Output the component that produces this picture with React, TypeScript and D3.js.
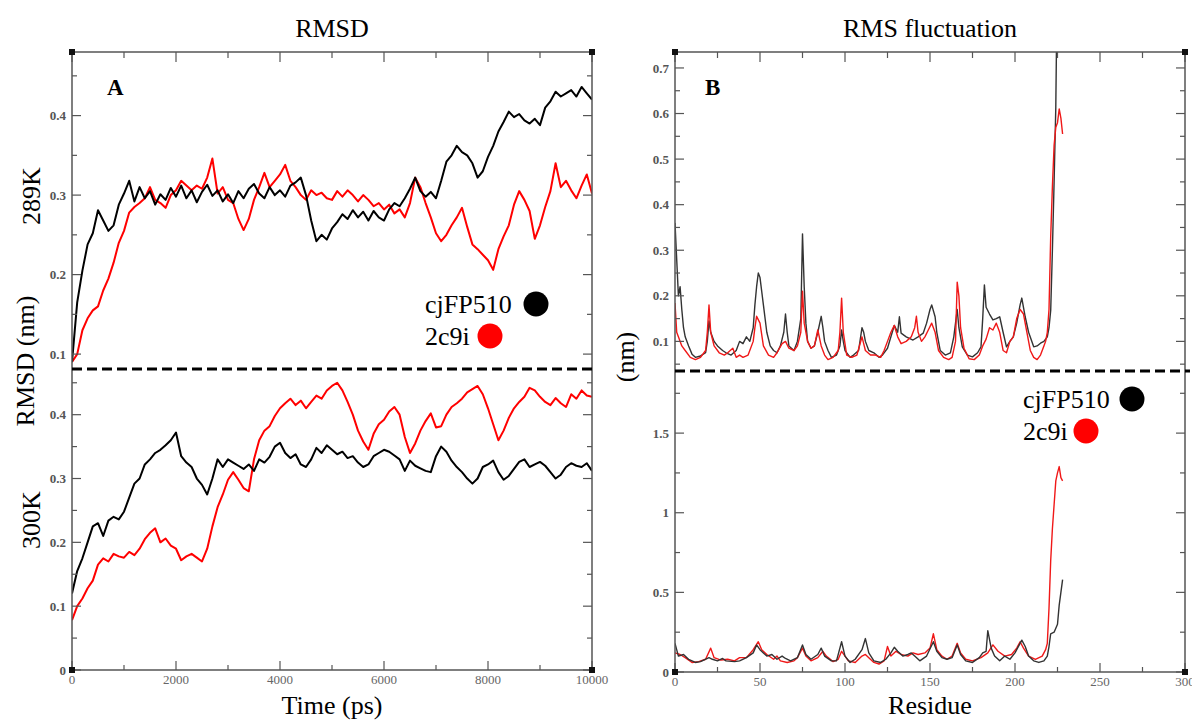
import React from 'react';
import * as d3 from 'd3';

const width = 1192;
const height = 722;

// ---- RMSD (nm), one sample every 100 ps from 0 to 10000 ps ----
const timeStep = 100;
const black289 = [
  0.090, 0.165, 0.205, 0.238, 0.252, 0.281, 0.268, 0.255, 0.262, 0.288,
  0.302, 0.318, 0.292, 0.310, 0.296, 0.305, 0.288, 0.301, 0.294, 0.309,
  0.298, 0.312, 0.296, 0.306, 0.291, 0.304, 0.313, 0.299, 0.306, 0.292,
  0.301, 0.290, 0.305, 0.296, 0.308, 0.314, 0.302, 0.296, 0.310, 0.300,
  0.306, 0.298, 0.312, 0.316, 0.322, 0.300, 0.268, 0.242, 0.250, 0.244,
  0.258, 0.266, 0.276, 0.270, 0.281, 0.272, 0.279, 0.268, 0.280, 0.272,
  0.268, 0.282, 0.290, 0.286, 0.296, 0.308, 0.322, 0.305, 0.298, 0.304,
  0.296, 0.318, 0.342, 0.350, 0.362, 0.354, 0.350, 0.340, 0.322, 0.330,
  0.348, 0.362, 0.380, 0.392, 0.405, 0.398, 0.402, 0.394, 0.390, 0.396,
  0.388, 0.410, 0.418, 0.430, 0.424, 0.428, 0.432, 0.424, 0.436, 0.428,
  0.420,
];
const red289 = [
  0.090, 0.100, 0.130, 0.145, 0.155, 0.160, 0.180, 0.195, 0.215, 0.240,
  0.255, 0.278, 0.285, 0.290, 0.296, 0.310, 0.294, 0.290, 0.284, 0.300,
  0.306, 0.318, 0.312, 0.306, 0.312, 0.308, 0.322, 0.346, 0.302, 0.310,
  0.294, 0.290, 0.270, 0.256, 0.270, 0.294, 0.310, 0.328, 0.310, 0.318,
  0.326, 0.338, 0.318, 0.310, 0.300, 0.294, 0.306, 0.300, 0.303, 0.296,
  0.294, 0.305, 0.298, 0.306, 0.300, 0.292, 0.300, 0.294, 0.286, 0.290,
  0.282, 0.288, 0.277, 0.282, 0.272, 0.290, 0.322, 0.310, 0.290, 0.272,
  0.252, 0.242, 0.250, 0.262, 0.272, 0.284, 0.260, 0.238, 0.232, 0.225,
  0.218, 0.206, 0.232, 0.248, 0.262, 0.288, 0.305, 0.294, 0.280, 0.245,
  0.262, 0.285, 0.305, 0.340, 0.310, 0.318, 0.306, 0.296, 0.312, 0.326,
  0.302,
];
const black300 = [
  0.120, 0.155, 0.175, 0.200, 0.225, 0.230, 0.210, 0.234, 0.240, 0.236,
  0.248, 0.270, 0.292, 0.300, 0.322, 0.330, 0.340, 0.345, 0.352, 0.360,
  0.372, 0.335, 0.325, 0.318, 0.300, 0.290, 0.275, 0.300, 0.330, 0.318,
  0.330, 0.325, 0.320, 0.315, 0.322, 0.312, 0.330, 0.325, 0.334, 0.350,
  0.356, 0.340, 0.332, 0.338, 0.322, 0.318, 0.330, 0.348, 0.340, 0.352,
  0.345, 0.338, 0.342, 0.332, 0.335, 0.325, 0.318, 0.322, 0.335, 0.340,
  0.345, 0.342, 0.336, 0.330, 0.312, 0.328, 0.320, 0.316, 0.312, 0.310,
  0.335, 0.350, 0.342, 0.328, 0.318, 0.310, 0.300, 0.292, 0.300, 0.318,
  0.322, 0.328, 0.310, 0.298, 0.304, 0.315, 0.326, 0.330, 0.318, 0.322,
  0.326, 0.320, 0.310, 0.300, 0.306, 0.318, 0.324, 0.320, 0.318, 0.324,
  0.312,
];
const red300 = [
  0.078, 0.100, 0.112, 0.128, 0.140, 0.165, 0.175, 0.170, 0.182, 0.178,
  0.176, 0.185, 0.180, 0.190, 0.205, 0.215, 0.222, 0.200, 0.206, 0.195,
  0.190, 0.172, 0.178, 0.182, 0.176, 0.170, 0.190, 0.225, 0.255, 0.275,
  0.298, 0.310, 0.298, 0.285, 0.280, 0.330, 0.360, 0.375, 0.382, 0.398,
  0.410, 0.418, 0.425, 0.415, 0.422, 0.410, 0.420, 0.430, 0.425, 0.438,
  0.445, 0.450, 0.438, 0.420, 0.400, 0.375, 0.358, 0.345, 0.370, 0.385,
  0.392, 0.405, 0.412, 0.400, 0.365, 0.340, 0.355, 0.375, 0.390, 0.402,
  0.380, 0.382, 0.400, 0.412, 0.418, 0.425, 0.435, 0.440, 0.445, 0.432,
  0.410, 0.385, 0.360, 0.375, 0.395, 0.410, 0.420, 0.428, 0.442, 0.438,
  0.428, 0.420, 0.415, 0.426, 0.418, 0.412, 0.432, 0.425, 0.438, 0.430,
  0.428,
];

// ---- RMS fluctuation (nm) per residue: [residue, value] ----
const rmsfTopBlack = [
  [0, 0.36], [1, 0.28], [2, 0.2], [3, 0.22], [4, 0.17], [5, 0.13], [6, 0.11], [8, 0.09], [10, 0.072],
  [12, 0.065], [15, 0.068], [18, 0.075], [19, 0.1], [20, 0.145], [21, 0.12], [23, 0.1], [25, 0.09],
  [28, 0.08], [30, 0.075], [33, 0.07], [36, 0.08], [38, 0.1], [40, 0.095], [42, 0.11], [44, 0.1],
  [46, 0.13], [47, 0.18], [48, 0.22], [49, 0.25], [50, 0.24], [51, 0.21], [52, 0.18], [54, 0.12],
  [56, 0.09], [58, 0.08], [60, 0.075], [62, 0.09], [64, 0.12], [65, 0.16], [66, 0.12], [67, 0.09],
  [70, 0.08], [72, 0.1], [74, 0.15], [75, 0.336], [76, 0.22], [77, 0.14], [78, 0.1], [80, 0.085],
  [82, 0.09], [84, 0.12], [86, 0.155], [87, 0.13], [88, 0.1], [90, 0.08], [92, 0.065], [95, 0.07],
  [97, 0.09], [98, 0.125], [99, 0.1], [100, 0.08], [103, 0.065], [105, 0.07], [108, 0.08], [110, 0.13],
  [111, 0.12], [112, 0.1], [114, 0.08], [117, 0.075], [120, 0.065], [122, 0.07], [125, 0.085],
  [127, 0.11], [129, 0.135], [131, 0.12], [132, 0.154], [133, 0.118], [136, 0.11], [140, 0.103],
  [143, 0.11], [146, 0.118], [148, 0.14], [150, 0.17], [151, 0.18], [153, 0.154], [154, 0.12],
  [156, 0.08], [159, 0.07], [162, 0.075], [164, 0.11], [166, 0.17], [167, 0.13], [169, 0.088],
  [172, 0.07], [175, 0.066], [178, 0.075], [180, 0.088], [181, 0.15], [182, 0.224], [183, 0.175],
  [185, 0.16], [187, 0.147], [189, 0.15], [191, 0.154], [193, 0.12], [195, 0.088], [197, 0.1],
  [199, 0.11], [201, 0.14], [203, 0.18], [204, 0.195], [206, 0.154], [208, 0.12], [211, 0.088],
  [213, 0.09], [215, 0.096], [217, 0.1], [219, 0.11], [220, 0.13], [221, 0.168], [222, 0.3],
  [223, 0.45], [224, 0.614], [225, 0.95],
];
const rmsfTopRed = [
  [0, 0.184], [1, 0.12], [2, 0.11], [4, 0.09], [6, 0.08], [9, 0.065], [12, 0.06], [15, 0.065],
  [18, 0.08], [19, 0.12], [20, 0.18], [21, 0.12], [23, 0.09], [26, 0.075], [29, 0.07], [31, 0.075],
  [34, 0.085], [36, 0.065], [38, 0.07], [40, 0.065], [43, 0.07], [46, 0.1], [47, 0.13], [48, 0.155],
  [50, 0.14], [52, 0.09], [55, 0.07], [58, 0.065], [60, 0.075], [63, 0.095], [65, 0.1], [67, 0.085],
  [70, 0.08], [72, 0.09], [74, 0.12], [75, 0.21], [76, 0.14], [78, 0.1], [80, 0.085], [82, 0.09],
  [84, 0.125], [86, 0.09], [88, 0.07], [90, 0.06], [93, 0.065], [96, 0.08], [97, 0.12], [98, 0.195],
  [99, 0.12], [101, 0.07], [104, 0.065], [107, 0.07], [110, 0.11], [112, 0.08], [115, 0.07],
  [118, 0.07], [121, 0.065], [123, 0.08], [125, 0.1], [127, 0.12], [129, 0.135], [131, 0.11],
  [133, 0.095], [136, 0.1], [139, 0.11], [141, 0.13], [142, 0.155], [143, 0.12], [145, 0.1],
  [147, 0.11], [149, 0.125], [151, 0.14], [153, 0.12], [155, 0.08], [158, 0.065], [161, 0.06],
  [163, 0.065], [165, 0.1], [166, 0.23], [167, 0.2], [168, 0.13], [170, 0.085], [173, 0.062],
  [176, 0.06], [179, 0.07], [181, 0.09], [183, 0.105], [185, 0.13], [187, 0.125], [189, 0.14],
  [191, 0.12], [193, 0.08], [195, 0.075], [197, 0.1], [199, 0.11], [201, 0.15], [203, 0.17],
  [205, 0.16], [207, 0.12], [209, 0.08], [211, 0.065], [213, 0.06], [215, 0.07], [217, 0.09],
  [218, 0.1], [219, 0.12], [220, 0.17], [221, 0.33], [222, 0.44], [223, 0.53], [224, 0.57],
  [225, 0.58], [226, 0.61], [227, 0.59], [228, 0.555],
];
const rmsfBotBlack = [
  [0, 0.18], [2, 0.1], [5, 0.11], [8, 0.08], [12, 0.06], [15, 0.065], [20, 0.09], [22, 0.08],
  [25, 0.07], [28, 0.085], [30, 0.07], [35, 0.065], [38, 0.07], [42, 0.09], [46, 0.12], [48, 0.17],
  [50, 0.14], [52, 0.12], [54, 0.1], [57, 0.11], [60, 0.08], [63, 0.1], [65, 0.085], [68, 0.07],
  [72, 0.09], [75, 0.17], [77, 0.11], [80, 0.08], [84, 0.11], [86, 0.15], [88, 0.1], [92, 0.07],
  [95, 0.07], [98, 0.19], [100, 0.1], [103, 0.06], [106, 0.08], [110, 0.14], [112, 0.21],
  [114, 0.12], [117, 0.07], [121, 0.06], [124, 0.08], [127, 0.12], [129, 0.155], [131, 0.13],
  [134, 0.1], [137, 0.11], [139, 0.12], [141, 0.1], [144, 0.07], [148, 0.1], [152, 0.19],
  [154, 0.13], [157, 0.09], [160, 0.08], [163, 0.09], [166, 0.17], [168, 0.11], [171, 0.07],
  [175, 0.06], [179, 0.09], [181, 0.12], [183, 0.13], [184, 0.26], [186, 0.15], [188, 0.1],
  [191, 0.07], [194, 0.1], [197, 0.08], [200, 0.12], [204, 0.2], [206, 0.16], [208, 0.1],
  [211, 0.07], [214, 0.06], [217, 0.07], [219, 0.1], [220, 0.16], [221, 0.24], [223, 0.25],
  [225, 0.3], [226, 0.42], [227, 0.5], [228, 0.58],
];
const rmsfBotRed = [
  [0, 0.12], [3, 0.11], [6, 0.09], [10, 0.06], [14, 0.065], [18, 0.08], [21, 0.15], [23, 0.09],
  [27, 0.075], [31, 0.08], [35, 0.07], [38, 0.09], [42, 0.09], [46, 0.14], [49, 0.19], [51, 0.14],
  [54, 0.11], [58, 0.08], [60, 0.1], [62, 0.07], [66, 0.06], [70, 0.07], [72, 0.09], [75, 0.15],
  [77, 0.1], [80, 0.07], [84, 0.09], [87, 0.13], [89, 0.1], [93, 0.065], [96, 0.08], [98, 0.13],
  [100, 0.1], [102, 0.07], [106, 0.06], [110, 0.1], [112, 0.11], [114, 0.09], [117, 0.06],
  [120, 0.05], [123, 0.07], [125, 0.16], [127, 0.1], [130, 0.13], [133, 0.11], [137, 0.1],
  [140, 0.12], [143, 0.11], [147, 0.12], [150, 0.15], [152, 0.24], [154, 0.14], [157, 0.1],
  [160, 0.08], [163, 0.1], [166, 0.18], [168, 0.12], [171, 0.08], [175, 0.07], [180, 0.09],
  [184, 0.12], [187, 0.17], [190, 0.13], [194, 0.1], [198, 0.11], [201, 0.15], [203, 0.19],
  [205, 0.15], [208, 0.1], [212, 0.08], [216, 0.1], [218, 0.14], [219, 0.18], [220, 0.4],
  [221, 0.7], [222, 0.9], [223, 1.05], [224, 1.2], [225, 1.25], [226, 1.29], [227, 1.22],
  [228, 1.2],
];

// ---- ticks ----
const timeTicks = [0, 2000, 4000, 6000, 8000, 10000];
const timeMinor = [1000, 3000, 5000, 7000, 9000];
const rmsdTopTicks = [0.1, 0.2, 0.3, 0.4];
const rmsdTopMinor = [0.15, 0.25, 0.35, 0.45];
const rmsdBotTicks = [0, 0.1, 0.2, 0.3, 0.4];
const rmsdBotMinor = [0.05, 0.15, 0.25, 0.35, 0.45];
const residueTicks = [0, 50, 100, 150, 200, 250, 300];
const residueMinor = [25, 75, 125, 175, 225, 275];
const rmsfTopTicks = [0.1, 0.2, 0.3, 0.4, 0.5, 0.6, 0.7];
const rmsfTopMinor = [0.05, 0.15, 0.25, 0.35, 0.45, 0.55, 0.65];
const rmsfBotTicks = [0, 0.5, 1, 1.5];
const rmsfBotMinor = [0.25, 0.75, 1.25, 1.75];

const legendNames = ['cjFP510', '2c9i'];
const seriesColors = ['#000000', '#ff0000'];

const serif = "'Liberation Serif', 'Times New Roman', serif";
const frameColor = '#555';
const labelColor = '#555';

// scales
const xTime = d3.scaleLinear().domain([0, 10000]).range([72, 592]);
const yRmsdTop = d3.scaleLinear().domain([0.08, 0.48]).range([370, 52]);
const yRmsdBot = d3.scaleLinear().domain([0, 0.47]).range([670, 370]);
const xRes = d3.scaleLinear().domain([0, 300]).range([675, 1185]);
const yRmsfTop = d3.scaleLinear().domain([0.035, 0.735]).range([371, 52]);
const yRmsfBot = d3.scaleLinear().domain([0, 1.89]).range([672, 371]);

function YTicks({ scale, major, minor, x0, x1 }) {
  return (
    <g stroke={frameColor} strokeWidth={1.2}>
      {major.map(v => (
        <g key={'M' + v}>
          <line x1={x0} x2={x0 + 9} y1={scale(v)} y2={scale(v)} />
          <line x1={x1} x2={x1 - 9} y1={scale(v)} y2={scale(v)} />
          <text x={x0 - 6} y={scale(v)} dy="0.35em" textAnchor="end" stroke="none"
            fill={labelColor} fontFamily={serif} fontWeight="bold" fontSize={13}>{String(v)}</text>
        </g>
      ))}
      {minor.map(v => (
        <g key={'m' + v}>
          <line x1={x0} x2={x0 + 5} y1={scale(v)} y2={scale(v)} />
          <line x1={x1} x2={x1 - 5} y1={scale(v)} y2={scale(v)} />
        </g>
      ))}
    </g>
  );
}

function XTicks({ scale, major, minor, y0, y1 }) {
  return (
    <g stroke={frameColor} strokeWidth={1.2}>
      {major.map(v => (
        <g key={'M' + v}>
          <line x1={scale(v)} x2={scale(v)} y1={y0} y2={y0 + 10} />
          <line x1={scale(v)} x2={scale(v)} y1={y1} y2={y1 - 9} />
          <text x={scale(v)} y={y1 + 14} textAnchor="middle" stroke="none"
            fill="#666" fontFamily={serif} fontSize={13}>{String(v)}</text>
        </g>
      ))}
      {minor.map(v => (
        <g key={'m' + v}>
          <line x1={scale(v)} x2={scale(v)} y1={y0} y2={y0 + 6} />
          <line x1={scale(v)} x2={scale(v)} y1={y1} y2={y1 - 5} />
        </g>
      ))}
    </g>
  );
}

function Corners({ x0, x1, y0, y1 }) {
  return (
    <g fill="#111">
      {[[x0, y0], [x1, y0], [x0, y1], [x1, y1]].map(([cx, cy], i) => (
        <rect key={i} x={cx - 3} y={cy - 3} width={6} height={6} />
      ))}
    </g>
  );
}

function Legend({ x, y, dotX }) {
  return (
    <g fontFamily={serif} fontSize={26}>
      {legendNames.map((name, i) => (
        <g key={name}>
          <text x={x} y={y + i * 32}>{name}</text>
          <circle cx={dotX[i]} cy={y + i * 32 - 9} r={12.5} fill={seriesColors[i]} />
        </g>
      ))}
    </g>
  );
}

export default function App() {
  const timeLine = (ys) => d3.line<number>()
    .x((_, i) => xTime(i * timeStep))
    .y(v => ys(v));
  const resLine = (ys) => d3.line<number[]>()
    .x(d => xRes(d[0]))
    .y(d => ys(d[1]));

  return (
    <svg width={width} height={height} style={{ position: 'absolute', left: 0, top: 0, background: '#fff' }}>
      <defs>
        <clipPath id="clipLT"><rect x={72} y={52} width={520} height={318} /></clipPath>
        <clipPath id="clipLB"><rect x={72} y={370} width={520} height={300} /></clipPath>
        <clipPath id="clipRT"><rect x={675} y={52} width={510} height={319} /></clipPath>
        <clipPath id="clipRB"><rect x={675} y={371} width={510} height={301} /></clipPath>
      </defs>

      {/* titles */}
      <text x={332} y={37} textAnchor="middle" fontFamily={serif} fontSize={26}>RMSD</text>
      <text x={930} y={37} textAnchor="middle" fontFamily={serif} fontSize={26}>RMS fluctuation</text>

      {/* ---------- left panel: RMSD ---------- */}
      <g clipPath="url(#clipLT)" fill="none" strokeWidth={2} strokeLinejoin="round">
        <path d={timeLine(yRmsdTop)(red289)} stroke={seriesColors[1]} />
        <path d={timeLine(yRmsdTop)(black289)} stroke={seriesColors[0]} />
      </g>
      <g clipPath="url(#clipLB)" fill="none" strokeWidth={2} strokeLinejoin="round">
        <path d={timeLine(yRmsdBot)(red300)} stroke={seriesColors[1]} />
        <path d={timeLine(yRmsdBot)(black300)} stroke={seriesColors[0]} />
      </g>
      <rect x={72} y={52} width={520} height={618} fill="none" stroke={frameColor} strokeWidth={1.5} />
      <YTicks scale={yRmsdTop} major={rmsdTopTicks} minor={rmsdTopMinor} x0={72} x1={592} />
      <YTicks scale={yRmsdBot} major={rmsdBotTicks} minor={rmsdBotMinor} x0={72} x1={592} />
      <XTicks scale={xTime} major={timeTicks} minor={timeMinor} y0={52} y1={670} />
      <Corners x0={72} x1={592} y0={52} y1={670} />
      <line x1={72} x2={593} y1={369} y2={369} stroke="#000" strokeWidth={3} strokeDasharray="10 5" />
      <text x={107} y={95} fontFamily={serif} fontWeight="bold" fontSize={23}>A</text>
      <Legend x={425} y={313} dotX={[536, 490]} />

      <text transform="translate(34,361) rotate(-90)" textAnchor="middle" fontFamily={serif} fontSize={26}>RMSD (nm)</text>
      <text transform="translate(40,196) rotate(-90)" textAnchor="middle" fontFamily={serif} fontSize={26}>289K</text>
      <text transform="translate(40,520) rotate(-90)" textAnchor="middle" fontFamily={serif} fontSize={26}>300K</text>
      <text x={332} y={714} textAnchor="middle" fontFamily={serif} fontSize={26}>Time (ps)</text>

      {/* ---------- right panel: RMSF ---------- */}
      <g clipPath="url(#clipRT)" fill="none" strokeWidth={1.4} strokeLinejoin="round">
        <path d={resLine(yRmsfTop)(rmsfTopBlack)} stroke="#333" />
        <path d={resLine(yRmsfTop)(rmsfTopRed)} stroke="#f01818" />
      </g>
      <g clipPath="url(#clipRB)" fill="none" strokeWidth={1.4} strokeLinejoin="round">
        <path d={resLine(yRmsfBot)(rmsfBotRed)} stroke="#f01818" />
        <path d={resLine(yRmsfBot)(rmsfBotBlack)} stroke="#333" />
      </g>
      <rect x={675} y={52} width={510} height={620} fill="none" stroke={frameColor} strokeWidth={1.5} />
      <YTicks scale={yRmsfTop} major={rmsfTopTicks} minor={rmsfTopMinor} x0={675} x1={1185} />
      <YTicks scale={yRmsfBot} major={rmsfBotTicks} minor={rmsfBotMinor} x0={675} x1={1185} />
      <XTicks scale={xRes} major={residueTicks} minor={residueMinor} y0={52} y1={672} />
      <Corners x0={675} x1={1185} y0={52} y1={672} />
      <line x1={675} x2={1190} y1={371} y2={371} stroke="#000" strokeWidth={3} strokeDasharray="10 5" />
      <text x={705} y={95} fontFamily={serif} fontWeight="bold" fontSize={23}>B</text>
      <Legend x={1023} y={408} dotX={[1132, 1086]} />

      <text transform="translate(634,357) rotate(-90)" textAnchor="middle" fontFamily={serif} fontSize={26}>(nm)</text>
      <text x={930} y={714} textAnchor="middle" fontFamily={serif} fontSize={26}>Residue</text>
    </svg>
  );
}
